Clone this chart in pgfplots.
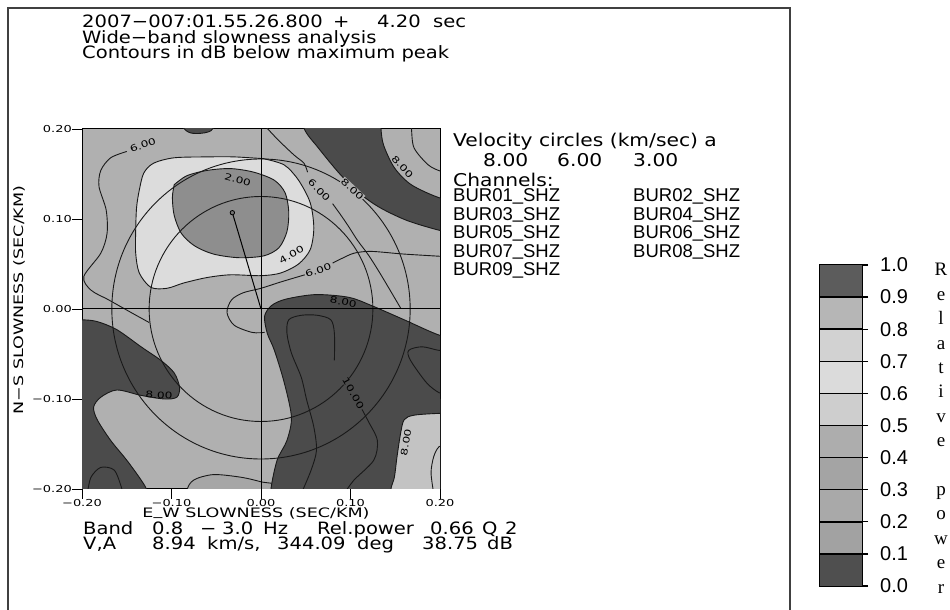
\documentclass[border=0pt]{standalone}
\usepackage{fontspec}
\setmainfont{DejaVu Sans}
\newfontfamily\gfont[FakeStretch=1.15]{DejaVu Sans}
\newfontfamily\tfont[FakeStretch=1.35]{DejaVu Sans}
\newfontfamily\lfont{Liberation Sans}
\newfontfamily\sfont{Liberation Serif}
\usepackage{pgfplots}
\pgfplotsset{compat=1.18}
\newcommand\G{\gfont\fontsize{17bp}{17bp}\selectfont}
\newcommand\GH{\gfont\fontsize{17bp}{17bp}\selectfont}
\newcommand\GB{\gfont\fontsize{17.6bp}{18bp}\selectfont}
\newcommand\B{\lfont\fontsize{18.5bp}{18.5bp}\selectfont}
\newcommand\C{\tfont\fontsize{9bp}{9bp}\selectfont}
\newcommand\TL{\tfont\fontsize{9.6bp}{10bp}\selectfont}
\newcommand\AL{\tfont\fontsize{13bp}{13bp}\selectfont}
\newcommand\us{\raisebox{1.5bp}{\_}}
\newcommand\tx[3]{\node[anchor=base west,inner sep=0pt] at (#1,610-#2) {#3};}
\definecolor{basegray}{HTML}{B0B0B0}
\definecolor{darkg}{HTML}{4B4B4B}
\definecolor{wlight}{HTML}{DCDCDC}
\definecolor{peakg}{HTML}{8E8E8E}
\definecolor{lightb}{HTML}{C3C3C3}
\definecolor{bumpg}{HTML}{A6A6A6}
\definecolor{c0}{HTML}{4F4F4F}
\definecolor{c1}{HTML}{A2A2A2}
\definecolor{c2}{HTML}{A9A9A9}
\definecolor{c3}{HTML}{A4A4A4}
\definecolor{c4}{HTML}{ADADAD}
\definecolor{c5}{HTML}{CECECE}
\definecolor{c6}{HTML}{DBDBDB}
\definecolor{c7}{HTML}{D2D2D2}
\definecolor{c8}{HTML}{B6B6B6}
\definecolor{c9}{HTML}{5C5C5C}
\pgfplotsset{cl/.style={black!90, line width=0.9bp, smooth},
  rg/.style={draw=black!90, line width=0.9bp, smooth}}
\tikzset{lab/.style={font=\C, inner sep=0.6bp}}
\begin{document}
\begin{tikzpicture}[x=1bp,y=1bp]
\useasboundingbox (0,0) rectangle (950,610);
\draw[line width=1.5bp, black!75] (8,-3) -- (8,602) -- (790,602) -- (790,-3);

\begin{axis}[at={(82bp,121bp)}, anchor=south west, width=358bp, height=360bp,
  scale only axis, xmin=-0.2, xmax=0.2, ymin=-0.2, ymax=0.2,
  xtick={-0.2,-0.1,0,0.1,0.2}, ytick={-0.2,-0.1,0,0.1,0.2},
  xticklabels={−0.20,−0.10,0.00,0.10,0.20},
  yticklabels={−0.20,−0.10,0.00,0.10,0.20},
  tick align=outside, xtick pos=left, ytick pos=left,
  major tick length=10bp, tick style={black, line width=0.8bp},
  axis line style={black, line width=1bp},
  ticklabel style={font=\TL, inner sep=0pt},
  axis background/.style={fill=basegray}, clip=true]

% lighter area bottom right
\addplot[fill=lightb, draw=none] coordinates {(0.12,-0.24)(0.13,-0.12)(0.17,-0.10)(0.24,-0.10)(0.24,-0.24)} -- cycle;
% bump at bottom
\addplot[fill=bumpg, rg] coordinates {(-0.085,-0.24)(-0.083,-0.203)(-0.075,-0.19)(-0.053,-0.184)(-0.022,-0.187)(0.0,-0.192)(0.03,-0.2)(0.03,-0.24)} -- cycle;
% dark A (top right)
\addplot[fill=darkg, rg] coordinates {(0.046,0.23)(0.048,0.201)(0.064,0.179)(0.089,0.149)(0.112,0.127)(0.134,0.112)(0.164,0.098)(0.201,0.087)(0.23,0.082)(0.24,0.1)(0.23,0.119)(0.201,0.123)(0.168,0.138)(0.149,0.157)(0.137,0.182)(0.134,0.201)(0.133,0.23)(0.09,0.24)} -- cycle;
% dark B (lower right)
\addplot[fill=darkg, rg] coordinates {(0.011,-0.23)(0.011,-0.201)(0.018,-0.168)(0.029,-0.146)(0.034,-0.120)(0.026,-0.082)(0.015,-0.046)(0.007,-0.027)(0.004,-0.008)(0.012,0.004)(0.028,0.011)(0.061,0.016)(0.098,0.013)(0.123,0.004)(0.160,-0.012)(0.199,-0.029)(0.23,-0.036)(0.24,-0.075)(0.23,-0.116)(0.199,-0.116)(0.171,-0.118)(0.160,-0.123)(0.156,-0.138)(0.152,-0.164)(0.149,-0.187)(0.145,-0.201)(0.143,-0.23)(0.08,-0.24)} -- cycle;
% dark C (lower left)
\addplot[fill=darkg, rg] coordinates {(-0.24,0.0)(-0.23,-0.012)(-0.200,-0.012)(-0.183,-0.014)(-0.161,-0.023)(-0.134,-0.042)(-0.112,-0.057)(-0.097,-0.071)(-0.091,-0.087)(-0.094,-0.098)(-0.108,-0.100)(-0.134,-0.096)(-0.161,-0.090)(-0.179,-0.098)(-0.187,-0.109)(-0.183,-0.123)(-0.168,-0.146)(-0.150,-0.168)(-0.134,-0.190)(-0.127,-0.203)(-0.123,-0.23)(-0.18,-0.24)(-0.24,-0.24)} -- cycle;
% dark sliver at the top
\addplot[fill=darkg, rg] coordinates {(-0.095,0.21)(-0.082,0.197)(-0.070,0.195)(-0.056,0.198)(-0.048,0.21)} -- cycle;
% 4 dB region
\addplot[fill=wlight, rg] coordinates {(0.003,0.167)(0.026,0.160)(0.042,0.143)(0.055,0.118)(0.059,0.090)(0.055,0.066)(0.042,0.050)(0.022,0.040)(0.0,0.037)(-0.034,0.038)(-0.060,0.035)(-0.086,0.029)(-0.105,0.023)(-0.123,0.024)(-0.136,0.040)(-0.140,0.062)(-0.140,0.088)(-0.139,0.113)(-0.136,0.132)(-0.131,0.151)(-0.120,0.162)(-0.097,0.168)(-0.060,0.169)(-0.030,0.169)(0.003,0.167)} -- cycle;
% 2 dB region
\addplot[fill=peakg, rg] coordinates {(-0.097,0.138)(-0.083,0.148)(-0.060,0.154)(-0.034,0.156)(-0.008,0.152)(0.015,0.143)(0.027,0.129)(0.031,0.108)(0.029,0.086)(0.020,0.068)(0.003,0.059)(-0.025,0.057)(-0.053,0.061)(-0.074,0.070)(-0.089,0.084)(-0.097,0.104)(-0.099,0.124)(-0.097,0.138)} -- cycle;

% contour lines
\addplot[cl] coordinates {(-0.150,0.175)(-0.168,0.168)(-0.179,0.154)(-0.181,0.136)(-0.173,0.110)(-0.172,0.084)(-0.179,0.062)(-0.198,0.036)(-0.190,0.021)(-0.170,0.010)(-0.145,-0.004)(-0.125,-0.015)};
\addplot[cl] coordinates {(0.003,0.205)(0.019,0.188)(0.037,0.171)(0.048,0.162)(0.052,0.152)};
\addplot[cl] coordinates {(0.080,0.117)(0.088,0.106)(0.097,0.093)(0.108,0.076)(0.120,0.060)(0.134,0.038)(0.156,0.001)};
\addplot[cl] coordinates {(0.21,0.058)(0.160,0.061)(0.123,0.064)(0.104,0.062)(0.090,0.056)(0.080,0.051)};
\addplot[cl] coordinates {(0.049,0.038)(0.022,0.030)(0.0,0.023)(-0.020,0.018)(-0.033,0.010)(-0.038,-0.004)(-0.030,-0.018)(-0.010,-0.026)(0.004,-0.026)};
\addplot[cl] coordinates {(0.166,0.21)(0.168,0.201)(0.171,0.179)(0.187,0.160)(0.201,0.153)(0.21,0.152)};
\addplot[cl] coordinates {(0.045,-0.205)(0.056,-0.179)(0.062,-0.157)(0.059,-0.131)(0.051,-0.101)(0.045,-0.076)(0.034,-0.049)(0.029,-0.027)(0.031,-0.012)(0.045,-0.007)(0.063,-0.007)(0.078,-0.012)(0.082,-0.027)(0.082,-0.057)};
\addplot[cl] coordinates {(0.112,-0.110)(0.120,-0.125)(0.130,-0.146)(0.126,-0.168)(0.104,-0.190)(0.093,-0.205)};
\addplot[cl] coordinates {(0.21,-0.045)(0.199,-0.046)(0.180,-0.042)(0.165,-0.046)(0.167,-0.057)(0.185,-0.082)(0.199,-0.093)(0.21,-0.095)};
\addplot[cl] coordinates {(0.21,-0.150)(0.199,-0.153)(0.193,-0.164)(0.190,-0.182)(0.193,-0.205)};
\addplot[cl] coordinates {(-0.194,-0.205)(-0.190,-0.187)(-0.179,-0.176)(-0.164,-0.179)(-0.156,-0.198)(-0.155,-0.205)};

% velocity circles 8 and 6 km/s
\draw[black!90, line width=0.9bp] (axis cs:0,0) circle[radius=0.125];
\draw[black!90, line width=0.9bp] (axis cs:0,0) circle[radius=0.16667];
% axes through origin
\addplot[black, line width=1bp] coordinates {(0,-0.2)(0,0.2)};
\addplot[black, line width=1bp] coordinates {(-0.2,0)(0.2,0)};
% peak direction
\addplot[black, line width=1bp] coordinates {(-0.032,0.107)(0,0)};
\addplot[only marks, mark=*, mark size=2.2bp, mark options={fill=black!55, draw=black, line width=0.8bp}] coordinates {(-0.032,0.107)};

% contour labels
\node[lab, fill=basegray, rotate=20] at (axis cs:-0.132,0.182) {6.00};
\node[lab, fill=peakg, rotate=-15] at (axis cs:-0.026,0.144) {2.00};
\node[lab, fill=basegray, rotate=-45] at (axis cs:0.065,0.132) {6.00};
\node[lab, fill=basegray, rotate=-43] at (axis cs:0.102,0.133) {8.00};
\node[lab, rotate=-47] at (axis cs:0.158,0.158) {8.00};
\node[lab, rotate=30] at (axis cs:0.034,0.060) {4.00};
\node[lab, fill=basegray, rotate=20] at (axis cs:0.064,0.043) {6.00};
\node[lab, rotate=-10] at (axis cs:0.092,0.008) {8.00};
\node[lab, rotate=-3] at (axis cs:-0.114,-0.096) {8.00};
\node[lab, fill=darkg, rotate=-61] at (axis cs:0.103,-0.094) {10.00};
\node[lab, rotate=80] at (axis cs:0.162,-0.148) {8.00};
\end{axis}

% axis titles
\node[font=\AL, inner sep=0pt] at (256,97) {E\us W SLOWNESS (SEC/KM)};
\node[font=\AL, inner sep=0pt, rotate=90] at (19,310) {N−S SLOWNESS (SEC/KM)};

% header text
\begin{scope}[font=\G]
\tx{82}{28}{2007−007:01.55.26.800}
\tx{333}{28}{+}
\tx{377}{28}{4.20}
\tx{433}{28}{sec}
% bottom text
\tx{83}{535}{Band}
\tx{152}{535}{0.8}
\tx{200}{535}{−}
\tx{222}{535}{3.0}
\tx{263}{535}{Hz}
\tx{317}{535}{Rel.power}
\tx{430}{535}{0.66}
\tx{482}{535}{Q}
\tx{505}{535}{2}
\tx{83}{550}{V,A}
\tx{152}{550}{8.94}
\tx{207}{550}{km/s,}
\tx{277}{550}{344.09}
\tx{357}{550}{deg}
\tx{422}{550}{38.75}
\tx{487}{550}{dB}
\end{scope}
\begin{scope}[font=\GH]
\tx{82}{44}{Wide−band slowness analysis}
\tx{82}{59}{Contours in dB below maximum peak}
\end{scope}
\begin{scope}[font=\GB]
\tx{453}{147}{Velocity circles (km/sec) a}
\tx{483}{167}{8.00}
\tx{557}{167}{6.00}
\tx{633}{167}{3.00}
\tx{453}{187}{Channels:}
\end{scope}
\begin{scope}[font=\B]
\tx{453}{202}{BUR01\us SHZ}
\tx{633}{202}{BUR02\us SHZ}
\tx{453}{220.5}{BUR03\us SHZ}
\tx{633}{220.5}{BUR04\us SHZ}
\tx{453}{239}{BUR05\us SHZ}
\tx{633}{239}{BUR06\us SHZ}
\tx{453}{257.5}{BUR07\us SHZ}
\tx{633}{257.5}{BUR08\us SHZ}
\tx{453}{276}{BUR09\us SHZ}
\end{scope}

% colour bar
\begin{axis}[at={(820bp,24bp)}, anchor=south west, width=42bp, height=321bp,
  scale only axis, xmin=0, xmax=1, ymin=0, ymax=1, xtick=\empty,
  ytick={0,0.1,0.2,0.3,0.4,0.5,0.6,0.7,0.8,0.9,1},
  yticklabels={0.0,0.1,0.2,0.3,0.4,0.5,0.6,0.7,0.8,0.9,1.0},
  ytick pos=right, yticklabel pos=right, tick align=outside,
  major tick length=6bp, tick style={black, line width=1.3bp},
  axis line style={black, line width=1.6bp},
  yticklabel style={font=\lfont\fontsize{20bp}{20bp}\selectfont, anchor=west, inner sep=0pt, xshift=12bp},
  clip=true]
\addplot[fill=c0, draw=none] coordinates {(0,0)(1,0)(1,0.1)(0,0.1)} -- cycle;
\addplot[fill=c1, draw=none] coordinates {(0,0.1)(1,0.1)(1,0.2)(0,0.2)} -- cycle;
\addplot[fill=c2, draw=none] coordinates {(0,0.2)(1,0.2)(1,0.3)(0,0.3)} -- cycle;
\addplot[fill=c3, draw=none] coordinates {(0,0.3)(1,0.3)(1,0.4)(0,0.4)} -- cycle;
\addplot[fill=c4, draw=none] coordinates {(0,0.4)(1,0.4)(1,0.5)(0,0.5)} -- cycle;
\addplot[fill=c5, draw=none] coordinates {(0,0.5)(1,0.5)(1,0.6)(0,0.6)} -- cycle;
\addplot[fill=c6, draw=none] coordinates {(0,0.6)(1,0.6)(1,0.7)(0,0.7)} -- cycle;
\addplot[fill=c7, draw=none] coordinates {(0,0.7)(1,0.7)(1,0.8)(0,0.8)} -- cycle;
\addplot[fill=c8, draw=none] coordinates {(0,0.8)(1,0.8)(1,0.9)(0,0.9)} -- cycle;
\addplot[fill=c9, draw=none] coordinates {(0,0.9)(1,0.9)(1,1)(0,1)} -- cycle;
\addplot[black, line width=1.5bp] coordinates {(0,0.1)(1,0.1)};
\addplot[black, line width=1.5bp] coordinates {(0,0.2)(1,0.2)};
\addplot[black, line width=1.5bp] coordinates {(0,0.3)(1,0.3)};
\addplot[black, line width=1.5bp] coordinates {(0,0.4)(1,0.4)};
\addplot[black, line width=1.5bp] coordinates {(0,0.5)(1,0.5)};
\addplot[black, line width=1.5bp] coordinates {(0,0.6)(1,0.6)};
\addplot[black, line width=1.5bp] coordinates {(0,0.7)(1,0.7)};
\addplot[black, line width=1.5bp] coordinates {(0,0.8)(1,0.8)};
\addplot[black, line width=1.5bp] coordinates {(0,0.9)(1,0.9)};
\end{axis}
\foreach \c [count=\i from 0] in {R,e,l,a,t,i,v,e,{},p,o,w,e,r}
  \node[anchor=base, inner sep=0pt, font=\sfont\fontsize{19bp}{19bp}\selectfont] at (941,610-276-\i*24.4) {\c};
\end{tikzpicture}
\end{document}
